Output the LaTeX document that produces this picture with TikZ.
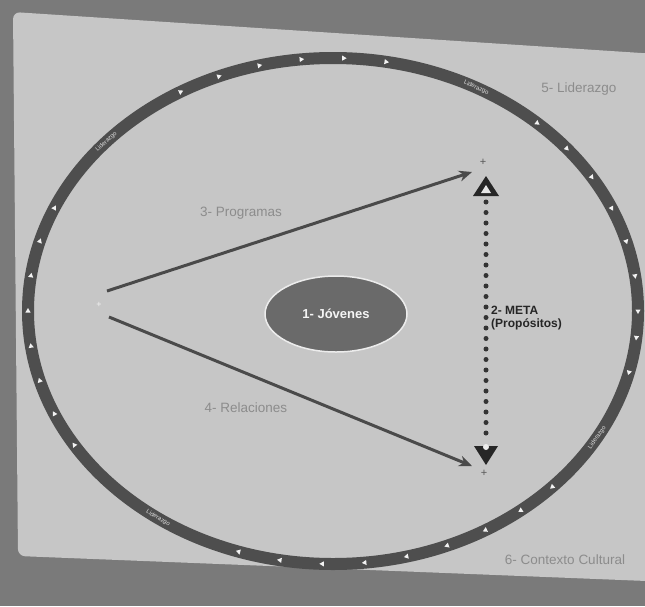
\documentclass[tikz,border=0pt]{standalone}
\usepackage{fontspec}
\setmainfont{Liberation Sans}
\usetikzlibrary{arrows.meta,shapes.geometric}
\definecolor{bgdark}{HTML}{7A7A7A}
\definecolor{panelgray}{HTML}{C6C6C6}
\definecolor{ringgray}{HTML}{4E4E4E}
\definecolor{labelgray}{HTML}{8C8C8C}
\definecolor{arrowgray}{HTML}{4A4A4A}
\definecolor{jovfill}{HTML}{6A6A6A}
\begin{document}
\begin{tikzpicture}[x=1pt,y=-1pt,
  lbltxt/.style={text=labelgray,font=\fontsize{13.5}{15}\selectfont,inner sep=0pt},
  ringtxt/.style={text=white!75!gray,font=\fontsize{6}{7}\selectfont,inner sep=0pt},
  ringmark/.style={isosceles triangle,isosceles triangle apex angle=60,fill=white!90!gray,inner sep=0pt,minimum height=4.5pt,minimum width=4.5pt},
  arr/.style={draw=arrowgray,line width=3pt,-{Stealth[length=13pt,width=11pt]}},
  dotline/.style={draw=black!80,line width=5pt,line cap=round,dash pattern=on 0pt off 10.5pt},
  plussign/.style={text=black!65,font=\fontsize{11}{11}\selectfont,inner sep=0pt},
  headfill/.style={fill=black!85}]
\useasboundingbox (0,0) rectangle (645,606);
\fill[bgdark] (0,0) rectangle (645,606);
\fill[panelgray,rounded corners=7pt] (13,12) -- (672,55) -- (672,582) -- (18,556) -- cycle;
% ring
\draw[ringgray,line width=12pt] (333,311) ellipse [x radius=305, y radius=253];
\foreach \u in {0,8,16,24,32,40,48,80,88,96,104,112,120,156,164,172,180,188,196,204,212,252,260,268,276,284,292,300,308,316,346,354}{
  \pgfmathsetmacro\r{atan2(-253*cos(\u),305*sin(\u))}
  \node[ringmark,rotate=\r] (mk\u) at ({333+305*cos(\u)},{311-253*sin(\u)}) {};
}
\foreach \u in {62,138,-30,-125}{
  \pgfmathsetmacro\r{atan2(-253*cos(\u),305*sin(\u))}
  \pgfmathsetmacro\rr{(\r>90) ? (\r-180) : ((\r<-90) ? (\r+180) : \r)}
  \node[ringtxt,rotate=\rr] (rt\u) at ({333+305*cos(\u)},{311-253*sin(\u)}) {Liderazgo};
}
% center
\node[ellipse,fill=jovfill,draw=white!85!gray,line width=1.5pt,minimum width=142pt,minimum height=76pt,
  text=white!92!gray,font=\fontsize{13}{14}\selectfont\bfseries] (jov) at (336,314) {1- Jóvenes};
% source and targets
\coordinate (src1) at (107,291);
\coordinate (src2) at (109,317);
\coordinate (tgt1) at (472,172);
\coordinate (tgt2) at (472,466);
\node[text=white!90!gray,font=\fontsize{9}{9}\selectfont,inner sep=0pt] (srcmark) at (99,305) {+};
\draw[arr] (src1) -- (tgt1);
\draw[arr] (src2) -- (tgt2);
% META
\node[plussign] (ptop) at (483,162) {+};
\node[plussign] (pbot) at (484,473) {+};
\coordinate (mtop) at (486,202);
\coordinate (mbot) at (486,437);
\draw[dotline] (mtop) -- (mbot);
\fill[headfill] (486,176) -- (499,196) -- (473,196) -- cycle;
\fill[white!80!gray] (486,185) -- (491,193) -- (481,193) -- cycle;
\fill[headfill] (474,446) -- (498,446) -- (486,465) -- cycle;
\fill[white!85!gray] (486,447) circle (3pt);
\node[anchor=west,align=left,text=black!85,inner sep=0pt,
  font=\fontsize{12}{13}\selectfont\bfseries] (meta) at (491,318) {2- META\\(Propósitos)};
% labels
\node[lbltxt] (l3) at (241,213) {3- Programas};
\node[lbltxt] (l4) at (246,408) {4- Relaciones};
\node[lbltxt] (l5) at (579,89) {5- Liderazgo};
\node[lbltxt] (l6) at (565,560) {6- Contexto Cultural};
\end{tikzpicture}
\end{document}
